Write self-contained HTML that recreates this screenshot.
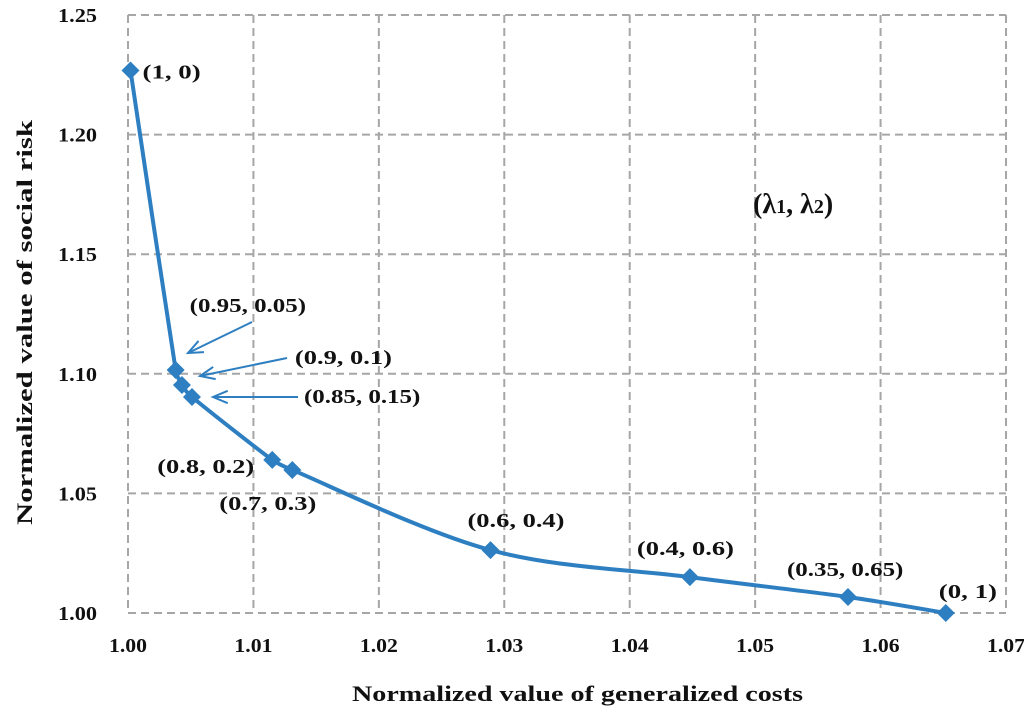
<!DOCTYPE html>
<html><head><meta charset="utf-8"><style>
body{margin:0;background:#fff;}
svg text{font-family:"Liberation Serif",serif;font-weight:bold;fill:#111;}
</style></head><body>
<svg id="chart" width="1024" height="717" viewBox="0 0 1024 717" xmlns="http://www.w3.org/2000/svg">
<g id="grid"></g>
<g id="axes"></g>
<g id="series"></g>
<g id="labels"></g>
<text x="352" y="701" font-size="22" textLength="451" lengthAdjust="spacingAndGlyphs">Normalized value of generalized costs</text>
<text transform="translate(32,525) rotate(-90)" font-size="22" textLength="405" lengthAdjust="spacingAndGlyphs">Normalized value of social risk</text>
<text x="753" y="213" font-size="28">(λ<tspan font-size="20">1</tspan>, λ<tspan font-size="20">2</tspan>)</text>
</svg>
<script>
const xVals=[1.0002,1.0038,1.0043,1.0051,1.0115,1.0131,1.0289,1.0448,1.0574,1.0652];
const yVals=[1.2268,1.1016,1.0953,1.0903,1.0640,1.0598,1.0263,1.0150,1.0067,1.0000];
const pointLabels=["(1, 0)","(0.95, 0.05)","(0.9, 0.1)","(0.85, 0.15)","(0.8, 0.2)","(0.7, 0.3)","(0.6, 0.4)","(0.4, 0.6)","(0.35, 0.65)","(0, 1)"];
const xTicks=[1.00,1.01,1.02,1.03,1.04,1.05,1.06,1.07];
const yTicks=[1.00,1.05,1.10,1.15,1.20,1.25];
const NS="http://www.w3.org/2000/svg";
const L=128,R=1006,T=15,B=613;
const sx=v=>L+(v-1.00)/0.07*(R-L);
const sy=v=>B-(v-1.00)/0.25*(B-T);
function mk(tag,attrs,parent){const e=document.createElementNS(NS,tag);for(const k in attrs)e.setAttribute(k,attrs[k]);parent.appendChild(e);return e;}
const grid=document.getElementById('grid'),axes=document.getElementById('axes'),series=document.getElementById('series'),labels=document.getElementById('labels');
xTicks.forEach(t=>{
 const l=mk('line',{x1:sx(t),x2:sx(t),y1:T,y2:B,stroke:'#a6a6a6','stroke-width':2,'stroke-dasharray':'8,5'},grid);
 
 
 const tx=mk('text',{x:sx(t)-19,y:B+39,'font-size':20,textLength:38,lengthAdjust:'spacingAndGlyphs'},axes);
 tx.textContent=t.toFixed(2);
 
 
});
yTicks.forEach(t=>{
 const l=mk('line',{x1:L,x2:R,y1:sy(t),y2:sy(t),stroke:'#a6a6a6','stroke-width':2,'stroke-dasharray':'8,5'},grid);
 
 
 const tx=mk('text',{x:58,y:sy(t)+7,'font-size':20,textLength:39,lengthAdjust:'spacingAndGlyphs'},axes);
 tx.textContent=t.toFixed(2);
 
 
});
const P=xVals.map((x,i)=>[sx(x),sy(yVals[i])]);
function tang(i){const p0=P[Math.max(0,i-1)],p2=P[Math.min(P.length-1,i+1)];return [(p2[0]-p0[0])/6,(p2[1]-p0[1])/6];}
function clampH(h,len){const m=Math.hypot(h[0],h[1]);const mx=0.35*len;return m>mx?[h[0]*mx/m,h[1]*mx/m]:h;}
let d=`M${P[0][0]},${P[0][1]}`;
for(let i=0;i<P.length-1;i++){
 const p1=P[i],p2=P[i+1],len=Math.hypot(p2[0]-p1[0],p2[1]-p1[1]);
 const a=clampH(tang(i),len),b=clampH(tang(i+1),len);
 d+=` C${p1[0]+a[0]},${p1[1]+a[1]} ${p2[0]-b[0]},${p2[1]-b[1]} ${p2[0]},${p2[1]}`;
}
const path=mk('path',{d:d,fill:'none',stroke:'#2e7fc1','stroke-width':4,'stroke-linejoin':'round'},series);


P.forEach((p,i)=>{
 const m=mk('polygon',{points:`${p[0]},${p[1]-9} ${p[0]+9},${p[1]} ${p[0]},${p[1]+9} ${p[0]-9},${p[1]}`,fill:'#2e7fc1'},series);
 
 
});
const off=[[12,8,'start'],[14,-58,'start'],[113,-21,'start'],[112,6,'start'],[-18,13,'end'],[-73,40,'start'],[-23,-23,'start'],[-53,-22,'start'],[-61,-21,'start'],[-7,-15,'start']];
P.forEach((p,i)=>{
 const t=mk('text',{x:p[0]+off[i][0],y:p[1]+off[i][1],'text-anchor':off[i][2],'font-size':20,textLength:pointLabels[i].length*9.7,lengthAdjust:'spacingAndGlyphs'},labels);
 t.textContent=pointLabels[i];
 
 
});
[[252,322,188,353],[287,358,200,376],[298,397,213,397]].forEach(a=>{
 const s=[a[0],a[1]],e=[a[2],a[3]];
 const l=mk('line',{x1:s[0],y1:s[1],x2:e[0],y2:e[1],stroke:'#2e7fc1','stroke-width':2},labels);
 
 
 const ang=Math.atan2(e[1]-s[1],e[0]-s[0]);
 const h=mk('polyline',{points:`${e[0]-16*Math.cos(ang-0.4)},${e[1]-16*Math.sin(ang-0.4)} ${e[0]},${e[1]} ${e[0]-16*Math.cos(ang+0.4)},${e[1]-16*Math.sin(ang+0.4)}`,fill:'none',stroke:'#2e7fc1','stroke-width':2},labels);
 
 
});
</script>
</body></html>
